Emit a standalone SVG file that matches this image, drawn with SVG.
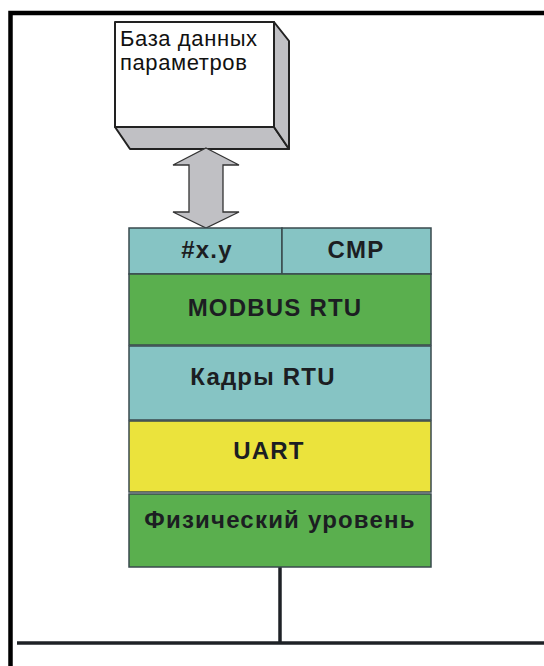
<svg xmlns="http://www.w3.org/2000/svg" width="544" height="666" viewBox="0 0 544 666">
<style>
.frame{stroke:#000;stroke-width:4.5;fill:none}
.bus{stroke:#1e2226;stroke-width:3.5;fill:none}
.layer{stroke:#3a4a4e;stroke-width:1.5}
.teal{fill:#86c4c4}
.green{fill:#5aaf4e}
.yellow{fill:#ebe33c}
.lbl{font-family:"Liberation Sans",Arial,sans-serif;font-weight:bold;font-size:24px;letter-spacing:1.2px;fill:#1c1e22;text-anchor:middle}
.db{font-family:"Liberation Sans",Arial,sans-serif;font-size:22px;letter-spacing:0.6px;fill:#111}
.box3d{stroke:#222;stroke-width:2;stroke-linejoin:round}
</style>
<rect width="544" height="666" fill="#fff"/>
<g id="frame">
<path class="frame" d="M10.5,666 V13 H544"/>
</g>
<g id="database">
<polygon class="box3d" fill="#c0c0c4" points="115,127 274,127 289,149 130,149"/>
<polygon class="box3d" fill="#c0c0c4" points="274,22 289,41 289,149 274,127"/>
<rect class="box3d" x="115" y="22" width="159" height="105" fill="#fff"/>
<text class="db" x="120" y="46">База данных</text>
<text class="db" x="120" y="70">параметров</text>
</g>
<g id="connectors">
<polygon fill="#c0c0c4" stroke="#333" stroke-width="1.3" stroke-linejoin="miter" points="206,148 239,165 223,165 223,212 239,212 206,228 173,212 189,212 189,165 173,165"/>
<line class="bus" x1="280" y1="567" x2="280" y2="643"/>
<line class="bus" x1="17" y1="643" x2="544" y2="643"/>
</g>
<g id="addr-row">
<rect class="layer teal" x="129" y="228" width="153" height="46"/>
<rect class="layer teal" x="282" y="228" width="149" height="46"/>
<text class="lbl" x="207" y="258">#x.y</text>
<text class="lbl" x="356" y="258">CMP</text>
</g>
<g id="modbus">
<rect class="layer green" x="129" y="274" width="302" height="71"/>
<text class="lbl" x="275" y="316">MODBUS RTU</text>
</g>
<g id="frames">
<rect class="layer teal" x="129" y="346" width="302" height="74"/>
<text class="lbl" x="263" y="385">Кадры RTU</text>
</g>
<g id="uart">
<rect class="layer yellow" x="129" y="421" width="302" height="71"/>
<text class="lbl" x="269" y="459">UART</text>
</g>
<g id="physical">
<rect class="layer green" x="129" y="494" width="302" height="73"/>
<text class="lbl" x="280" y="528">Физический уровень</text>
</g>
</svg>
